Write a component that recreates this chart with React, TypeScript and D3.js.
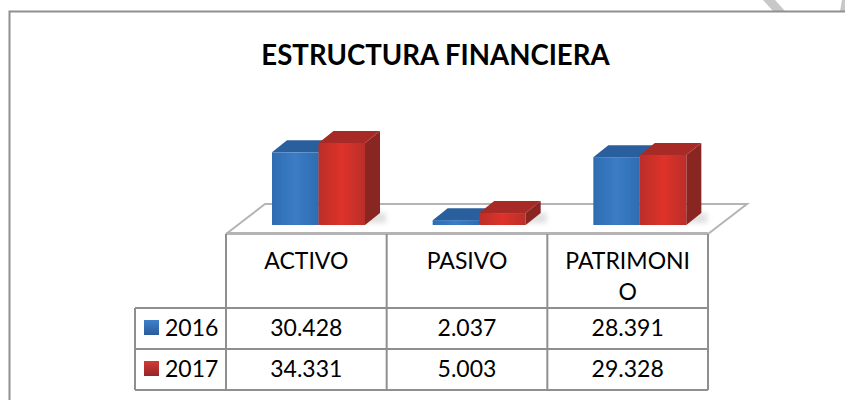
import React from "react";
import { scaleBand, scaleLinear, format } from "d3";

const categories = ["ACTIVO", "PASIVO", "PATRIMONIO"];
const headerLines = [["ACTIVO"], ["PASIVO"], ["PATRIMONI", "O"]];
const seriesNames = ["2016", "2017"];
const values2016 = [30.428, 2.037, 28.391];
const values2017 = [34.331, 5.003, 29.328];
const seriesValues = [values2016, values2017];

const width = 845;
const height = 400;
const baseY = 225;
const depthX = 15;
const depthY = 12;
const fmt = format(".3f");

// one table column per category
const x = scaleBand<string>().domain(categories).range([226, 708]);
const xInner = scaleBand<string>().domain(seriesNames).range([46, 139]);
const y = scaleLinear().domain([0, 34.331]).range([baseY, 143]);
const rowY = scaleBand<string>().domain(seriesNames).range([308, 390]);

const palette: Record<string, { front: string; mid: string; top: string; side: string; key: string; keyDark: string }> = {
  "2016": { front: "#2e6cb0", mid: "#3b7cc6", top: "#2a5f9e", side: "#24548c", key: "#3f7fca", keyDark: "#2a5c9c" },
  "2017": { front: "#bb2f2a", mid: "#de302c", top: "#a82b25", side: "#8a2520", key: "#d23a36", keyDark: "#96262a" },
};

const lineColor = "#8f8f8f";
const font = "Lato, 'Open Sans', sans-serif";

export default function App() {
  return (
    <svg
      width={width}
      height={height}
      style={{ position: "absolute", left: 0, top: 0, background: "#fff" }}
      fontFamily={font}
    >
      <defs>
        <filter id="soft" x="-20%" y="-20%" width="140%" height="140%">
          <feGaussianBlur stdDeviation="0.6" />
        </filter>
        <filter id="shade" x="-30%" y="-50%" width="160%" height="200%">
          <feGaussianBlur stdDeviation="2.5" />
        </filter>
        {seriesNames.map((s) => (
          <React.Fragment key={s}>
            <linearGradient id={`front-${s}`} x1="0" x2="1" y1="0" y2="0">
              <stop offset="0" stopColor={palette[s].front} />
              <stop offset="0.5" stopColor={palette[s].mid} />
              <stop offset="1" stopColor={palette[s].front} />
            </linearGradient>
            <linearGradient id={`key-${s}`} x1="0" x2="0" y1="0" y2="1">
              <stop offset="0" stopColor={palette[s].key} />
              <stop offset="1" stopColor={palette[s].keyDark} />
            </linearGradient>
          </React.Fragment>
        ))}
      </defs>

      {/* scan leftovers above the frame */}
      <polygon points="763,0 775,0 785,11 773,11" fill="#c8c8c8" />
      <polygon points="842,0 845,0 845,11 840,11" fill="#c8c8c8" />

      {/* frame */}
      <path d={`M${width},11.5H9.5V${height}`} fill="none" stroke={lineColor} strokeWidth={2} />

      <text x={435.5} y={65} textAnchor="middle" fontSize={27.6} fontWeight={700} fill="#000">
        ESTRUCTURA FINANCIERA
      </text>

      {/* floor */}
      <path
        d="M226,234L265,204H747L708,234"
        fill="#fff"
        stroke="#b4b4b4"
        strokeWidth={2}
      />
      <line x1={226} x2={708} y1={233.5} y2={233.5} stroke="#b4b4b4" strokeWidth={3} />

      {/* bars */}
      {categories.map((c, i) => (
        <g key={c} transform={`translate(${x(c)},0)`}>
          <rect
            x={xInner("2017")! + xInner.bandwidth() - 2}
            y={baseY - 12}
            width={depthX + 8}
            height={10}
            fill="#9a9a9a"
            opacity={0.3}
            filter="url(#shade)"
          />
          <g filter="url(#soft)">
            {seriesNames.map((s, k) => {
              const x0 = xInner(s)!;
              const x1 = x0 + xInner.bandwidth();
              const top = y(seriesValues[k][i]);
              return (
                <g key={s}>
                  <polygon
                    points={`${x1},${top} ${x1 + depthX},${top - depthY} ${x1 + depthX},${baseY - depthY} ${x1},${baseY}`}
                    fill={palette[s].side}
                  />
                  <polygon
                    points={`${x0},${top} ${x0 + depthX},${top - depthY} ${x1 + depthX},${top - depthY} ${x1},${top}`}
                    fill={palette[s].top}
                  />
                  <rect x={x0} y={top} width={xInner.bandwidth()} height={baseY - top} fill={`url(#front-${s})`} />
                </g>
              );
            })}
          </g>
        </g>
      ))}

      {/* data table */}
      <g fill="none" stroke={lineColor} strokeWidth={2}>
        <line x1={226} x2={226} y1={234} y2={390} />
        {categories.map((c) => (
          <line key={c} x1={x(c)! + x.bandwidth()} x2={x(c)! + x.bandwidth()} y1={234} y2={390} />
        ))}
        <line x1={135} x2={708} y1={308} y2={308} />
        <line x1={135} x2={708} y1={349} y2={349} />
        <line x1={135} x2={708} y1={390} y2={390} />
        <line x1={135} x2={135} y1={308} y2={390} />
      </g>

      <g fontSize={23} fill="#000" textAnchor="middle">
        {categories.map((c, i) =>
          headerLines[i].map((t, j) => (
            <text key={t} x={x(c)! + x.bandwidth() / 2} y={269 + j * 31}>
              {t}
            </text>
          ))
        )}
        {seriesNames.map((s, k) =>
          categories.map((c, i) => (
            <text key={c} x={x(c)! + x.bandwidth() / 2} y={rowY(s)! + 28}>
              {fmt(seriesValues[k][i])}
            </text>
          ))
        )}
      </g>

      {/* legend keys */}
      {seriesNames.map((s) => (
        <g key={s}>
          <rect x={144} y={rowY(s)! + 12} width={15} height={15} fill={`url(#key-${s})`} />
          <text x={165} y={rowY(s)! + 28} fontSize={23} fill="#000">
            {s}
          </text>
        </g>
      ))}
    </svg>
  );
}
